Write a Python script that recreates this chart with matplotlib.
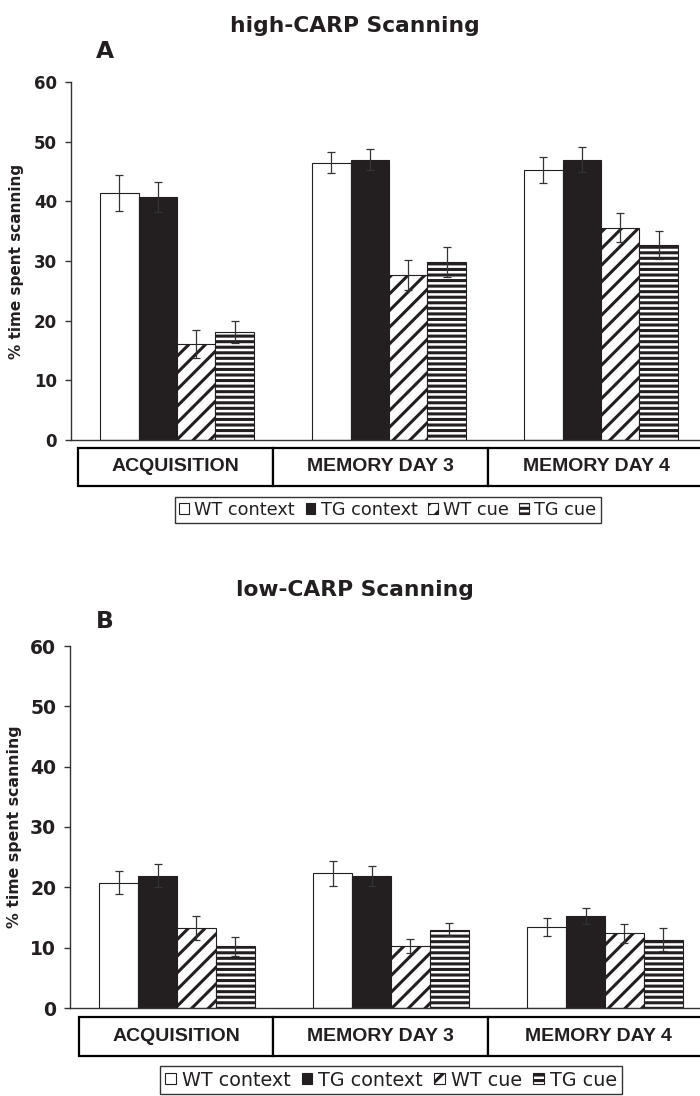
import numpy as np
import matplotlib
matplotlib.use('Agg')
import matplotlib.pyplot as plt
from matplotlib.patches import Patch, Rectangle
import matplotlib.transforms as mtransforms

plt.rcParams['hatch.linewidth'] = 2.2

# groups and series
groups = ['ACQUISITION', 'MEMORY DAY 3', 'MEMORY DAY 4']
series = ['WT context', 'TG context', 'WT cue', 'TG cue']

# high-CARP scanning (% time)
high_wt_context = [41.4, 46.5, 45.2]
high_tg_context = [40.7, 47.0, 47.0]
high_wt_cue = [16.1, 27.7, 35.6]
high_tg_cue = [18.1, 29.8, 32.7]
high_wt_context_err = [3.0, 1.8, 2.2]
high_tg_context_err = [2.5, 1.7, 2.1]
high_wt_cue_err = [2.4, 2.5, 2.4]
high_tg_cue_err = [1.9, 2.5, 2.3]

# low-CARP scanning (% time)
low_wt_context = [20.8, 22.3, 13.5]
low_tg_context = [21.9, 21.9, 15.3]
low_wt_cue = [13.2, 10.3, 12.4]
low_tg_cue = [10.2, 13.0, 11.3]
low_wt_context_err = [1.9, 2.0, 1.5]
low_tg_context_err = [1.9, 1.7, 1.3]
low_wt_cue_err = [2.0, 1.2, 1.6]
low_tg_cue_err = [1.5, 1.1, 1.9]

yticks = [0, 10, 20, 30, 40, 50, 60]

dark = '#231f20'
facecolors = ['white', dark, 'white', 'white']
hatches = [None, None, '//', '---']

fig = plt.figure(figsize=(7, 10.96), dpi=100)

panels = [
    dict(title='high-CARP Scanning', letter='A',
         means=[high_wt_context, high_tg_context, high_wt_cue, high_tg_cue],
         errs=[high_wt_context_err, high_tg_context_err, high_wt_cue_err, high_tg_cue_err],
         rect=[71/700, 1-440/1096, 636/700, 358/1096],
         tick_fs=12, label_fs=11, label_x=17/700,
         box_edges=[-0.467, 0.453, 1.467, 2.6], box_y=(-0.1285, -0.0223),
         title_y=1-26/1096, letter_y=1-52/1096,
         leg_fs=12.7, leg_xy=(388/700, 1-510/1096)),
    dict(title='low-CARP Scanning', letter='B',
         means=[low_wt_context, low_tg_context, low_wt_cue, low_tg_cue],
         errs=[low_wt_context_err, low_tg_context_err, low_wt_cue_err, low_tg_cue_err],
         rect=[70/700, 1-1008/1096, 642/700, 362/1096],
         tick_fs=13.5, label_fs=11.3, label_x=15/700,
         box_edges=[-0.458, 0.449, 1.453, 2.6], box_y=(-0.1326, -0.0249),
         title_y=1-590/1096, letter_y=1-622/1096,
         leg_fs=13.8, leg_xy=(391/700, 1-1080/1096)),
]

x = np.arange(len(groups))
width = 0.1816
offsets = (np.arange(4) - 1.5) * width

for p in panels:
    ax = fig.add_axes(p['rect'])
    for k in range(4):
        ax.bar(x + offsets[k], p['means'][k], width=width, color=facecolors[k],
               edgecolor=dark, linewidth=0.8, hatch=hatches[k], zorder=2)
        ax.errorbar(x + offsets[k], p['means'][k], yerr=p['errs'][k], fmt='none',
                    ecolor='#333333', elinewidth=0.9, capsize=3, capthick=0.9, zorder=3)

    ax.set_xlim(-0.5, 2.5)
    ax.set_ylim(0, 60)
    ax.set_yticks(yticks)
    ax.set_xticks([])
    ax.spines['top'].set_visible(False)
    ax.spines['right'].set_visible(False)
    ax.spines['left'].set_color('#333333')
    ax.spines['bottom'].set_color('#333333')
    ax.spines['left'].set_linewidth(1.0)
    ax.spines['bottom'].set_linewidth(1.0)
    ax.tick_params(axis='y', length=4, width=1.0, color='#333333', pad=6,
                   labelsize=p['tick_fs'], labelcolor=dark)
    for lab in ax.get_yticklabels():
        lab.set_fontweight('bold')

    # category boxes under the axis
    trans = mtransforms.blended_transform_factory(ax.transData, ax.transAxes)
    y0, y1 = p['box_y']
    edges = p['box_edges']
    for i, name in enumerate(groups):
        ax.add_patch(Rectangle((edges[i], y0), edges[i+1] - edges[i], y1 - y0,
                               transform=trans, facecolor='white', edgecolor='black',
                               linewidth=1.6, clip_on=False))
        cx = (edges[i] + min(edges[i+1], 2.49)) / 2
        ax.text(cx, (y0 + y1) / 2, name, transform=trans, ha='center', va='center',
                fontsize=14, fontweight='bold', family='Liberation Sans', color=dark)

    fig.text(p['label_x'], p['rect'][1] + p['rect'][3] / 2, '% time spent scanning',
             rotation=90, ha='center', va='center', fontsize=p['label_fs'],
             fontweight='bold', color=dark)
    fig.text(355/700, p['title_y'], p['title'], ha='center', va='center',
             fontsize=15.7, fontweight='bold', color=dark)
    fig.text(105/700, p['letter_y'], p['letter'], ha='center', va='center',
             fontsize=16.8, fontweight='bold', color=dark)

    handles = [Patch(facecolor=facecolors[k], edgecolor=dark, hatch=hatches[k],
                     linewidth=0.8, label=series[k]) for k in range(4)]
    leg = fig.legend(handles=handles, loc='center', bbox_to_anchor=p['leg_xy'],
                     ncol=4, fontsize=p['leg_fs'], frameon=True, fancybox=False,
                     edgecolor='#333333', framealpha=1, handlelength=0.55,
                     handleheight=0.55, handletextpad=0.3, columnspacing=0.6,
                     borderpad=0.25, borderaxespad=0)
    leg.get_frame().set_linewidth(1.0)
    for t in leg.get_texts():
        t.set_color(dark)

fig.savefig('out.png', dpi=100)
